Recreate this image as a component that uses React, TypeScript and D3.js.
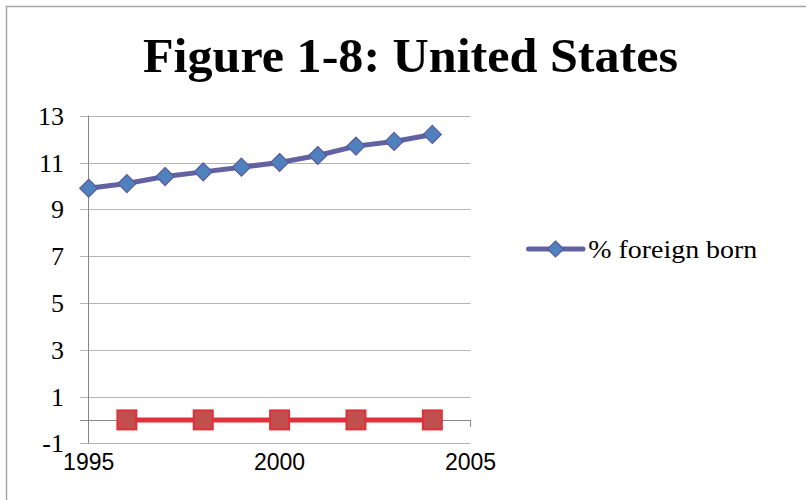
import React from "react";
import * as d3 from "d3";

const title = "Figure 1-8: United States";
const years = [1995, 1996, 1997, 1998, 1999, 2000, 2001, 2002, 2003, 2004];
const foreignBorn = [9.9, 10.1, 10.4, 10.6, 10.8, 11.0, 11.3, 11.7, 11.9, 12.2];
const secondYears = [1996, 1998, 2000, 2002, 2004];
const secondValues = [0, 0, 0, 0, 0];
const yTicks = [-1, 1, 3, 5, 7, 9, 11, 13];
const xTicks = [1995, 2000, 2005];
const legendLabel = "% foreign born";

export default function App() {
  const x = d3.scaleLinear().domain([1995, 2005]).range([88.7, 470.5]);
  const y = d3.scaleLinear().domain([-1, 13]).range([443.3, 115.7]);
  const line = d3
    .line<[number, number]>()
    .x((d) => x(d[0]))
    .y((d) => y(d[1]));
  const blueData: [number, number][] = years.map((yr, i) => [yr, foreignBorn[i]]);
  const redData: [number, number][] = secondYears.map((yr, i) => [yr, secondValues[i]]);
  const diamond = (cx: number, cy: number, r: number) =>
    `M${cx},${cy - r}L${cx + r},${cy}L${cx},${cy + r}L${cx - r},${cy}Z`;
  const serif = "'Liberation Serif', 'Times New Roman', serif";
  const sans = "'Liberation Sans', Arial, sans-serif";

  return (
    <svg
      width={806}
      height={500}
      style={{ position: "absolute", left: 0, top: 0, background: "#fff" }}
    >
      <rect x={0} y={0} width={806} height={500} fill="#fff" />
      <rect x={6.5} y={6.5} width={900} height={600} fill="none" stroke="#a6a6a6" strokeWidth={1.5} />
      <text
        x={410.5}
        y={71.7}
        textAnchor="middle"
        fontFamily={serif}
        fontWeight="bold"
        fontSize={49}
        textLength={535}
        lengthAdjust="spacingAndGlyphs"
        fill="#000"
      >
        {title}
      </text>
      {/* gridlines */}
      {yTicks.map((t) => (
        <line
          key={"g" + t}
          x1={80}
          x2={x(2005)}
          y1={Math.round(y(t)) + 0.5}
          y2={Math.round(y(t)) + 0.5}
          stroke="#b5b5b5"
          strokeWidth={1}
        />
      ))}
      {/* y axis */}
      <line x1={88.5} x2={88.5} y1={y(13)} y2={y(-1)} stroke="#868686" strokeWidth={1} />
      {/* x axis at 0 */}
      <line x1={80} x2={x(2005)} y1={Math.round(y(0)) + 0.5} y2={Math.round(y(0)) + 0.5} stroke="#868686" strokeWidth={1} />
      <line x1={x(2005)} x2={x(2005)} y1={y(0)} y2={y(0) + 7} stroke="#868686" strokeWidth={1} />
      {/* y tick labels */}
      {yTicks.map((t) => (
        <text
          key={"yl" + t}
          x={64}
          y={y(t) + 9}
          textAnchor="end"
          fontFamily={serif}
          fontSize={26}
          fill="#000"
        >
          {t < 0 ? "-" + Math.abs(t) : t}
        </text>
      ))}
      {/* x tick labels */}
      {xTicks.map((t) => (
        <text
          key={"xl" + t}
          x={x(t)}
          y={470}
          textAnchor="middle"
          fontFamily={sans}
          fontSize={23}
          fill="#000"
        >
          {t}
        </text>
      ))}
      {/* red series */}
      <path d={line(redData) || ""} fill="none" stroke="#e0303a" strokeWidth={5} />
      {redData.map((d, i) => (
        <rect
          key={"r" + i}
          x={x(d[0]) - 9.5}
          y={y(d[1]) - 9.5}
          width={19}
          height={19}
          fill="#c0504d"
          stroke="#e0303a"
          strokeWidth={2}
        />
      ))}
      {/* blue series */}
      <path d={line(blueData) || ""} fill="none" stroke="#6262a2" strokeWidth={5} strokeLinejoin="round" />
      {blueData.map((d, i) => (
        <path key={"b" + i} d={diamond(x(d[0]), y(d[1]), 9)} fill="#4f81bd" stroke="#5a5a9c" strokeWidth={1.2} />
      ))}
      {/* legend */}
      <line x1={528.5} x2={583} y1={249} y2={249} stroke="#6262a2" strokeWidth={5} strokeLinecap="round" />
      <path d={diamond(555.5, 249, 8)} fill="#4f81bd" stroke="#5a5a9c" strokeWidth={1.2} />
      <text
        x={588.3}
        y={258}
        fontFamily={serif}
        fontSize={26}
        textLength={169}
        lengthAdjust="spacingAndGlyphs"
        fill="#000"
      >
        {legendLabel}
      </text>
    </svg>
  );
}
